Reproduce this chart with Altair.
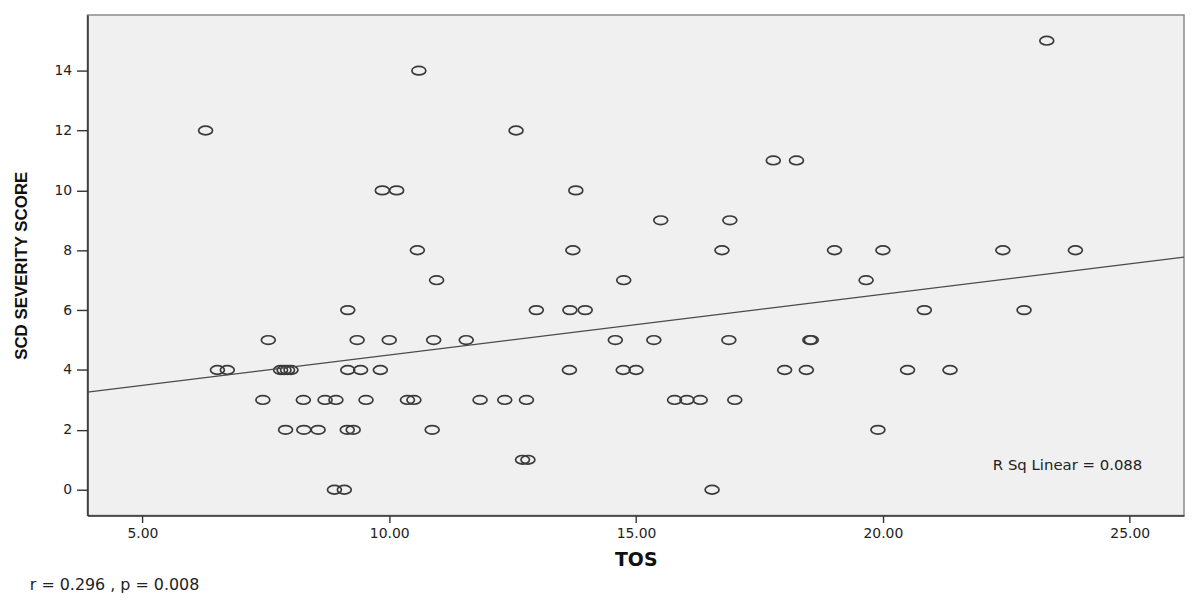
import altair as alt
import pandas as pd

# TOS values, grouped by SCD severity score
tos_values = [
    23.32,
    10.60,
    6.28, 12.57,
    17.78, 18.25,
    9.86, 10.15, 13.78,
    15.50, 16.90,
    10.57, 13.72, 16.74, 19.02, 20.00, 22.43, 23.90,
    10.96, 14.75, 19.66,
    9.16, 12.98, 13.66, 13.97, 20.84, 22.86,
    7.55, 9.35, 10.00, 10.90, 11.56, 14.58, 15.36, 16.88, 18.52, 18.55,
    6.52, 6.72, 7.80, 7.87, 7.94, 8.01, 9.16, 9.42, 9.82, 13.65, 14.74, 15.00, 18.01, 18.45, 20.50, 21.36,
    7.44, 8.26, 8.70, 8.92, 9.53, 10.37, 10.50, 11.84, 12.34, 12.78, 15.78, 16.03, 16.30, 17.00,
    7.90, 8.27, 8.56, 9.15, 9.27, 10.87, 19.90,
    12.70, 12.81,
    8.89, 9.09, 16.54,
]
scd_values = (
    [15] + [14] + [12] * 2 + [11] * 2 + [10] * 3 + [9] * 2 + [8] * 7 + [7] * 3
    + [6] * 6 + [5] * 10 + [4] * 16 + [3] * 14 + [2] * 7 + [1] * 2 + [0] * 3
)

x_ticks = [5, 10, 15, 20, 25]
y_ticks = [0, 2, 4, 6, 8, 10, 12, 14]
x_domain = [3.887, 26.1]
y_domain = [-0.863, 15.86]
rsq_label = "R Sq Linear = 0.088"
footnote = "r = 0.296 , p = 0.008"

df = pd.DataFrame({"TOS": tos_values, "SCD": scd_values})

ELLIPSE = "M-1,0A1,0.62,0,1,1,1,0A1,0.62,0,1,1,-1,0Z"

x_enc = alt.X(
    "TOS:Q",
    scale=alt.Scale(domain=x_domain, nice=False, zero=False),
    axis=alt.Axis(
        values=x_ticks, format=".2f", title="TOS", grid=False,
        tickSize=7, labelPadding=4, labelFlush=False, labelOverlap=False,
        titleFont="DejaVu Sans", titleFontSize=19, titleFontWeight="bold",
        titleX=552, titleY=50, titleBaseline="alphabetic", titleAlign="center",
        titleColor="#111",
    ),
)
y_enc = alt.Y(
    "SCD:Q",
    scale=alt.Scale(domain=y_domain, nice=False, zero=False),
    axis=alt.Axis(
        values=y_ticks, format="d", title="SCD SEVERITY SCORE", grid=False,
        tickSize=11, labelPadding=5, labelFlush=False, labelOverlap=False,
        titleFont="Liberation Sans", titleFontSize=17, titleFontWeight="bold",
        titleX=-66, titleY=252, titleAngle=270, titleAlign="center",
        titleBaseline="middle", titleColor="#111",
    ),
)

points = alt.Chart(df).mark_point(
    shape=ELLIPSE, size=196, filled=False, color="#3a3a3a",
    strokeWidth=1.7, opacity=1,
).encode(x=x_enc, y=y_enc)

fit = alt.Chart(df).transform_regression(
    "TOS", "SCD", extent=x_domain
).mark_line(color="#4a4a4a", strokeWidth=1.2, clip=True).encode(
    x="TOS:Q", y="SCD:Q"
)

rsq = alt.Chart(pd.DataFrame({"t": [rsq_label]})).mark_text(
    align="right", baseline="alphabetic", font="DejaVu Sans",
    fontSize=15, color="#222",
).encode(x=alt.value(1062), y=alt.value(458), text="t:N")

foot = alt.Chart(pd.DataFrame({"t": [footnote]})).mark_text(
    align="left", baseline="alphabetic", font="DejaVu Sans",
    fontSize=16, color="#222",
).encode(x=alt.value(-58), y=alt.value(579), text="t:N")

chart = alt.layer(points, fit, rsq, foot).properties(
    width=1104,
    height=504,
    autosize=alt.AutoSizeParams(type="none"),
    padding={"left": 80, "top": 5, "right": 1, "bottom": 83},
    background="white",
).configure_view(
    fill="#F0F0F0", stroke="#8a8a8a", strokeWidth=1.5
).configure_axis(
    domainColor="#333", domainWidth=1.6, tickColor="#333", tickWidth=1.4,
    labelFont="DejaVu Sans", labelFontSize=14, labelColor="#222",
)

chart.save("out.html", embed_options={"renderer": "svg", "actions": False})
